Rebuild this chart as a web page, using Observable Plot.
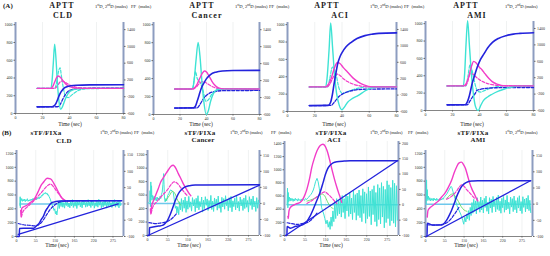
<!DOCTYPE html>
<html><head><meta charset="utf-8">
<script src="https://cdn.jsdelivr.net/npm/d3@7"></script>
<script src="https://cdn.jsdelivr.net/npm/@observablehq/plot@0.6"></script>
<style>
body{margin:0;background:#fff;}
#fig{position:relative;width:550px;height:256px;overflow:hidden;font-family:"Liberation Serif",serif;color:#222;background:#fff;}
.t{position:absolute;white-space:nowrap;line-height:1;}
.ttl{font-weight:bold;font-size:8px;letter-spacing:1px;}
.ttlb{font-weight:bold;font-size:7px;letter-spacing:0.2px;}
.sm{font-size:4.6px;}
.sm sup{font-size:3px;}
.lab{font-weight:bold;font-size:7px;}
.tm{font-size:5.5px;}
</style></head><body><div id="fig"></div><script>
// ---------- Row A: APTT (time 0-80 s) ----------
const aTicksX = [0,20,40,60,80];
const aTicksL = [0,200,400,600,800,1000];
const aTicksR = [-600,-200,200,600,1000,1400];
// CLD
const aCldFF  = [[16,75],[27,76],[28.5,85],[30,115],[31,150],[32,190],[33,225],[34.5,260],[36,285],[38,300],[41,312],[45,318],[55,322],[80,324]];
const aCldFFn = [[16,75],[31,76],[33,100],[35,160],[37,215],[39,250],[42,270],[46,280],[55,284],[80,286]];
const aCld1D  = [[16,0],[26,0],[27.5,40],[29,150],[30.5,260],[31.5,295],[33,270],[35,190],[37,110],[39,55],[42,20],[46,5],[55,0],[80,0]];
const aCld1Dn = [[16,0],[29,0],[31,60],[33,150],[34.5,175],[36.5,150],[39,100],[42,55],[46,20],[52,5],[80,0]];
const aCld2D  = [[16,0],[26,0],[27,150],[28,600],[29,1050],[30,700],[31,150],[32,-250],[33.5,-500],[35,-420],[37,-250],[39,-120],[42,-40],[46,-10],[55,0],[80,0]];
const aCld2Dn = [[16,0],[29,0],[30.5,150],[32,420],[33,490],[34,300],[35.5,0],[37,-180],[39,-220],[42,-150],[46,-60],[52,-10],[80,0]];
// Cancer
const aCanFF  = [[16,72],[30,74],[31.5,90],[33,150],[34.5,220],[36,290],[38,350],[40,400],[43,445],[47,472],[52,485],[60,490],[80,492]];
const aCanFFn = [[16,72],[33,74],[35,110],[37,160],[39,200],[42,235],[46,255],[52,265],[80,268]];
const aCan1D  = [[16,0],[29,0],[31,30],[33,120],[35,260],[37,380],[38.5,425],[40,400],[42,300],[44,190],[46,100],[49,30],[53,5],[80,0]];
const aCan1Dn = [[16,0],[30,0],[32,40],[34,110],[36,165],[37.5,176],[39,160],[42,100],[45,50],[50,10],[80,0]];
const aCan2D  = [[16,0],[29,0],[30.5,150],[32,650],[33.7,1100],[35,800],[36.5,200],[38,-300],[39.8,-600],[41.5,-500],[43,-300],[45,-120],[47,-30],[50,0],[80,0]];
const aCan2Dn = [[16,0],[29.5,0],[30.5,200],[31.7,410],[33,250],[34.5,180],[36,100],[37.5,-50],[39.5,-290],[41.5,-250],[44,-120],[47,-40],[51,0],[80,0]];
// ACI
const aAciFF  = [[16,68],[30,70],[31.5,100],[33,200],[34,300],[35.5,440],[37,560],[38.5,630],[40.5,690],[43,745],[46.8,797],[51,840],[56.8,874],[62,890],[67,900],[80,905]];
const aAciFFn = [[16,68],[32,70],[34,100],[36,140],[38,175],[40.5,203],[44,225],[48,242],[52,253],[60,258],[80,260]];
const aAci1D  = [[16,0],[28,0],[30,60],[32,200],[34,420],[35.5,550],[36.7,593],[38.5,570],[41,470],[44,363],[48,220],[52,118],[56,50],[62,0],[80,0]];
const aAci1Dn = [[16,0],[29,0],[31,60],[33,200],[35,300],[36.5,310],[38.5,280],[41,200],[44,130],[48,70],[53,25],[60,0],[80,0]];
const aAci2D  = [[16,0],[28,0],[29,200],[30.5,900],[31.7,1560],[33,1000],[34.5,300],[36,-150],[38,-450],[40,-558],[42,-480],[44,-380],[46.8,-300],[52,-208],[56.8,-100],[62,-20],[70,0],[80,0]];
const aAci2Dn = [[16,0],[29.5,0],[31,200],[33,485],[34.5,420],[36,250],[37.5,0],[39,-120],[40.5,-166],[43,-130],[47,-80],[52,-30],[58,0],[80,0]];
// AMI
const aAmiFF  = [[16,65],[29.4,66],[31,100],[32.5,170],[34.5,307],[36.5,410],[38.3,498],[40.5,580],[43.3,652],[46,720],[49.6,785],[54,830],[59.6,862],[65,880],[70,888],[80,896]];
const aAmiFFn = [[16,65],[31,66],[33,110],[35,160],[37,200],[38,230],[41,245],[45,255],[52,262],[80,265]];
const aAmi1D  = [[16,0],[28,0],[30,50],[32,220],[34,470],[35.7,598],[37.5,560],[40,450],[41.8,394],[44,300],[47,180],[49.4,105],[53,45],[59,0],[80,0]];
const aAmi1Dn = [[16,0],[29,0],[31,80],[32.5,250],[33.5,310],[35,290],[37,230],[40,150],[44,80],[48,40],[55,10],[80,0]];
const aAmi2D  = [[16,0],[28,0],[29,300],[30,1000],[31.2,1590],[32.5,1000],[34,300],[35.5,-200],[37,-500],[39,-600],[41,-470],[43,-352],[46,-270],[49,-210],[54,-130],[59,-70],[65,-20],[72,0],[80,0]];
const aAmi2Dn = [[16,0],[30,0],[31.5,250],[33,516],[34.5,380],[36,150],[37.5,-50],[39,-140],[41,-150],[44,-110],[48,-60],[53,-20],[60,0],[80,0]];

// ---------- Row B: sTF/FIXa (time 0-305 s) ----------
const bTicksX = [0,55,110,165,220,275];
const bTicksL = [0,200,400,600,800,1000,1200];
const bTicksL3 = [0,200,400,600,800,1000,1200,1400];
const bTicksR = [-100,-50,0,50,100,150];
const bTicksR3 = [-100,-50,0,50,100,150,200];
const noiseStep = 2.5;
// CLD
const bCldFF  = [[2,0],[8,0],[8.5,116],[20,118],[35,118],[49,120],[56,150],[63.6,185],[70,240],[77.9,306],[82,360],[87.4,405],[94,455],[101.7,491],[112,505],[125,512],[160,515],[300,515]];
const bCldLin = [[5,29],[290,470]];
const bCldFFn = [[5,188],[20,170],[40,160],[54,154],[62,165],[68,188],[78,250],[87,323],[96,390],[106,443],[116,480],[125,501],[150,512],[300,518]];
const bCld1D  = [[12,-20],[13,-40],[15,-14],[22,-8],[30,-4],[40,5],[49,12],[56,25],[63.6,42],[70,57],[78,68],[87,79],[97,77],[106,64],[114,48],[121,33],[128,20],[135,12],[145,7]];
const bCld1Dn = [[14,-40],[18,-25],[30,-10],[45,5],[60,22],[75,40],[87,55],[97,61],[106,52],[114,40],[121,30],[130,18],[140,10]];
const bCld2D  = [[10,-5],[10.5,22],[11,-12],[12,18],[13,10],[15,16],[17,8],[19,14],[21,9],[23,15],[25,7],[27,13],[29,10],[31,16],[33,8],[35,12],[37,9],[39,14],[41,10],[43,15],[45,11],[47,17],[49,12],[51,18],[53,14],[55,19],[57,13],[59,17],[61,15],[63,20],[65,16],[67,22],[69,19],[71,26],[73,24],[75,30],[77,28],[79,34],[81,31],[83,35],[85,30],[87,33],[89,27],[91,28],[93,22],[95,18],[97,12],[99,5],[101,-2],[103,-8],[105,-12],[107,-20],[109,-15],[111,-30],[113,-22],[115,-34]];
const bCldNoiseStart = 117;
const bCldNoise = [-18,6,-14,10,-8,12,-10,4,-13,9,-5,11,-9,3,-12,8,-6,13,-11,5,-7,10,-14,7,-4,12,-9,6,-12,9,-3,11,-10,5,-8,13,-6,7,-11,10,-5,12,-13,4,-7,9,-10,14,-4,8,-12,6,-9,11,-5,10,-13,7,-6,12,-8,4,-11,9,-3,13,-10,6,-7,11,-12,8,-5];
const bCldBase = [[10,0],[300,0]];
// Cancer
const bCanFF  = [[1,0],[5,0],[5.5,115],[15,125],[30,140],[40.6,150],[48,180],[54.6,225],[61,300],[68,400],[73,480],[78,550],[84,620],[91.4,675],[100,715],[114.6,740],[130,748],[151.6,750],[305,752]];
const bCanLin = [[1,0],[304,745]];
const bCanFFn = [[4,190],[12,185],[22,175],[35,185],[50,200],[60,225],[68,260],[75,300],[80,330]];
const bCan1D  = [[8,-17],[9,-33],[11,-10],[15,5],[22,25],[29,45],[36,67],[43,80],[50,93],[57,105],[64,116],[70,119],[78,108],[84,93],[91,77],[98,60],[105,46],[114,30],[118,24]];
const bCan1Dn = [[10,-30],[15,-10],[25,5],[40,25],[54,42],[65,60],[72,67],[80,64],[90,50],[100,35],[110,22]];
const bCan2D  = [[1,0],[6,5],[7,40],[8,-10],[9,67],[10,20],[11,55],[12,10],[14,25],[16,12],[18,22],[20,10],[22,18],[24,8],[26,20],[28,12],[30,17],[32,10],[34,22],[36,15],[38,28],[40,35],[42,60],[44,93],[45,60],[46,20],[48,5],[50,15],[52,8],[55,25],[58,30],[61,40],[64,42],[67,38],[70,35],[72,20],[74,0],[76,-15],[78,-8]];
const bCanNoiseStart = 80;
const bCanNoise = [-30,-10,-35,5,-20,15,-25,10,-15,20,-28,8,-18,22,-12,5,-24,18,-8,12,-26,16,-14,24,-20,6,-10,20,-27,10,-16,21,-6,14,-22,9,-12,25,-19,7,-25,17,-9,13,-21,23,-15,4,-28,19,-11,15,-18,24,-7,10,-23,18,-13,22,-26,8,-10,16,-20,26,-14,6,-24,20,-8,12,-22,17,-16,25,-12,9,-27,21,-6,14,-19,23,-11,7,-25,18,-15,10];
const bCanGreen = [[50,10],[60,25],[68,38],[75,30],[82,10],[90,-5]];
const bCanBase = [[5,0],[305,0]];
// ACI
const bAciFF  = [[3,0],[6.5,0],[7,137],[16,112],[30,140],[42.5,152],[52,175],[60,213],[68,290],[78,415],[87,540],[96,668],[103,800],[109,921],[115,1010],[122.5,1072],[130,1105],[140,1123],[160,1133],[176,1138],[303,1138]];
const bAciLin = [[3,0],[302,1138]];
const bAciFFn = [[7,194],[20,180],[34,168],[47,180],[60,194],[70,230],[80,290],[87,340]];
const bAci1D  = [[9,-38],[10,-45],[12,-20],[16,-8],[30,2],[42.5,8],[52,25],[60,51],[67,85],[73,122],[80,152],[87,176],[95,192],[103,197],[109,190],[114,176],[121,145],[127.7,111],[134,82],[140,57],[145,38],[149,24],[153,8]];
const bAci1Dn = [[60,4],[75,15],[87,26],[100,38],[108,42],[116,35],[124,26],[134,12],[140,4]];
const bAci2D  = [[7,0],[8,54],[9,-10],[10,40],[11,10],[13,25],[15,12],[17,22],[19,14],[21,20],[23,11],[25,19],[27,13],[29,21],[31,15],[33,18],[35,12],[37,20],[39,14],[41,17],[43,13],[45,19],[47,15],[50,18],[53,14],[56,20],[59,17],[62,22],[65,25],[68,30],[71,34],[74,40],[77,48],[80,60],[83,75],[87,86],[90,75],[93,54],[96,30],[99,-8],[102,-20],[105,-30],[108,-45],[111,-62],[114,-50],[117,-73],[120,-55]];
const bAciNoiseStart = 122;
const bAciNoise = [-80,-40,-70,-20,-55,10,-45,20,-35,15,-30,25,-40,30,-25,20,-45,35,-20,28,-38,40,-30,22,-48,45,-25,33,-50,38,-35,48,-42,30,-55,52,-28,42,-60,36,-45,58,-38,45,-65,50,-32,62,-55,40,-70,66,-48,55,-62,72,-40,60,-75,50,-58,78,-45,65,-68,56,-52,80,-60,70,-72,62,-50];
const bAciGreen = [[60,12],[75,18],[90,28],[100,35],[108,28],[115,10],[122,-5],[130,-12]];
const bAciBase = [[7,0],[303,0]];
// AMI
const bAmiFF  = [[2,0],[4.5,0],[5,192],[18.7,168],[30,165],[46.7,168],[55,200],[60.7,240],[68,310],[74.7,384],[82,480],[88.7,576],[96,660],[102.7,720],[110,760],[121,792],[135,802],[149,806],[300,806]];
const bAmiLin = [[2,0],[299,806]];
const bAmiFFn = [[5,170],[20,165],[40,170],[55,185],[65,215],[75,270],[85,340],[95,420]];
const bAmi1D  = [[5,-40],[7,-20],[12,-12],[20,-5],[30,4],[37,10],[46,22],[56,35],[65,52],[74.7,75],[82,98],[88.7,115],[95,127],[102.7,130],[108,123],[114,110],[120,88],[126,65],[133,45],[140,30],[145,18],[149,10]];
const bAmi1Dn = [[60,15],[75,25],[88,40],[96,52],[102.7,60],[110,55],[118,44],[126,35],[134,25],[142,15]];
const bAmi2D  = [[2,0],[3,75],[4,10],[5,45],[6,15],[8,25],[10,12],[12,20],[14,10],[16,18],[18,12],[20,17],[22,10],[24,19],[26,13],[28,16],[30,11],[32,18],[34,12],[36,15],[38,10],[40,17],[42,12],[44,16],[46,13],[48,18],[50,15],[52,20],[55,24],[58,28],[61,32],[64,38],[67,44],[70,50],[73,55],[75,52],[78,40],[82,25],[86,10],[90,-5],[94,-15],[98,-25],[102,-35],[106,-50],[109,-62],[112,-40],[115,-55],[118,-30]];
const bAmiNoiseStart = 120;
const bAmiNoise = [-45,-20,-50,-10,-35,5,-28,15,-22,10,-30,20,-15,8,-25,22,-18,12,-27,18,-10,25,-22,6,-30,20,-12,15,-26,24,-8,10,-24,21,-16,28,-20,9,-28,18,-11,24,-25,13,-18,27,-14,6,-30,22,-9,17,-23,25,-17,11,-27,20,-12,26,-21,8,-29,23,-10,16,-24,19,-15,27,-20,12,-26];
const bAmiGreen = [[60,18],[70,28],[78,32],[86,22],[94,8],[102,-8],[110,-18],[118,-22]];
const bAmiBase = [[2,0],[300,0]];

// ---------- drawing ----------
const C = {blue:"#2323dc", mag:"#f23cc8", cyan:"#3ee3d4", base:"#6ec8ec", green:"#62dd62"};
const fig = document.getElementById("fig");

function seq(start, vals, end){ // regular instrument sampling of typed values
  const out=[]; vals.forEach((v,i)=>{const t=start+i*noiseStep; if(t<=end) out.push([t,v]);}); return out;
}
function txt(html, x, y, cls, center){
  const d=document.createElement("div"); d.className="t "+cls; d.innerHTML=html;
  d.style.left=x+"px"; d.style.top=y+"px";
  d.style.transform = center ? "translate(-50%,-50%)" : "translateY(-50%)";
  fig.appendChild(d);
}
function panel(p){
  const mL=16,mR=16,mT=6,mB=10;
  const width=(p.R-p.L)+mL+mR, height=(p.B-p.T)+mT+mB;
  const [l0,l1]=p.lDom, [r0,r1]=p.rDom;
  const toL = r => (r-r0)/(r1-r0)*(l1-l0)+l0;
  const toR = l => (l-l0)/(l1-l0)*(r1-r0)+r0;
  const marks=[
    Plot.gridX(p.xTicks,{stroke:"#9aa",strokeOpacity:0.25,strokeWidth:0.6}),
    Plot.ruleY([l0],{stroke:"#666",strokeWidth:0.8}),
    Plot.ruleX([p.xDom[0]],{stroke:"#8d9dc0",strokeWidth:2}),
    Plot.ruleX([p.xDom[1]],{stroke:"#8d9dc0",strokeWidth:2}),
    Plot.axisX(p.xTicks,{label:null,tickSize:1.5,tickPadding:1,fontSize:4,tickFormat:d=>String(d),stroke:"#666"}),
    Plot.axisY(p.lTicks,{label:null,anchor:"left",tickSize:1.5,tickPadding:1.5,fontSize:4,tickFormat:d=>String(d),stroke:"#666"}),
    Plot.axisY(p.rTicks.map(toL),{label:null,anchor:"right",tickSize:1.5,tickPadding:2,fontSize:4,tickFormat:d=>String(Math.round(toR(d))),stroke:"#666"})
  ];
  for(const c of p.curves){
    const data=c.d.map(([t,v])=>({t, v: c.r ? toL(v) : v}));
    marks.push(Plot.line(data,{x:"t",y:"v",stroke:c.s,strokeWidth:c.w||1.4,strokeDasharray:c.dash?"3,1.6":null,curve:c.lin?"linear":"monotone-x"}));
  }
  const svg=Plot.plot({width,height,marginLeft:mL,marginRight:mR,marginTop:mT,marginBottom:mB,
    x:{domain:p.xDom,label:null},y:{domain:p.lDom,label:null},
    style:{background:"transparent",overflow:"visible",fontSize:"4px",fontFamily:"Liberation Serif, serif",color:"#333"},
    marks});
  svg.style.position="absolute"; svg.style.left=(p.L-mL)+"px"; svg.style.top=(p.T-mT)+"px";
  svg.style.width=width+"px"; svg.style.height=height+"px"; svg.style.maxWidth="none";
  fig.appendChild(svg);
}
function aCurves(ff,ffn,d1,d1n,d2,d2n){
  return [
    {d:d2n,r:1,s:C.cyan,dash:1,w:1.2},{d:d1n,r:1,s:C.mag,dash:1,w:1.2},{d:ffn,s:C.blue,dash:1,w:1.3},
    {d:d2,r:1,s:C.cyan,w:1.4},{d:d1,r:1,s:C.mag,w:1.4},{d:ff,s:C.blue,w:1.6}
  ];
}
function bCurves(base,d2,noiseStart,noise,green,ff,lin,ffn,d1,d1n,end){
  const cy=d2.concat(seq(noiseStart,noise,end));
  const arr=[{d:base,r:1,s:C.base,w:1.5,lin:1},{d:cy,r:1,s:C.cyan,w:1,lin:1}];
  if(green) arr.push({d:green,r:1,s:C.green,w:0.9});
  arr.push({d:d1n,r:1,s:C.mag,dash:1,w:1.2},{d:d1,r:1,s:C.mag,w:1.4},
    {d:ffn,s:C.blue,dash:1,w:1.2},{d:lin,s:C.blue,w:1.3,lin:1},{d:ff,s:C.blue,w:1.5});
  return arr;
}
const aR=[-600,1570], aL=[0,1025];
const panels=[
  {L:15,R:123,T:22,B:113,xDom:[0,80],xTicks:aTicksX,lDom:aL,rDom:aR,lTicks:aTicksL,rTicks:aTicksR,curves:aCurves(aCldFF,aCldFFn,aCld1D,aCld1Dn,aCld2D,aCld2Dn)},
  {L:153,R:259,T:22,B:114,xDom:[0,80],xTicks:aTicksX,lDom:aL,rDom:aR,lTicks:aTicksL,rTicks:aTicksR,curves:aCurves(aCanFF,aCanFFn,aCan1D,aCan1Dn,aCan2D,aCan2Dn)},
  {L:287,R:396,T:22,B:111,xDom:[0,80],xTicks:aTicksX,lDom:aL,rDom:aR,lTicks:aTicksL,rTicks:aTicksR,curves:aCurves(aAciFF,aAciFFn,aAci1D,aAci1Dn,aAci2D,aAci2Dn)},
  {L:425,R:533,T:21,B:110,xDom:[0,80],xTicks:aTicksX,lDom:aL,rDom:aR,lTicks:aTicksL,rTicks:aTicksR,curves:aCurves(aAmiFF,aAmiFFn,aAmi1D,aAmi1Dn,aAmi2D,aAmi2Dn)},
  {L:16,R:123,T:150,B:236,xDom:[0,305],xTicks:bTicksX,lDom:[0,1243],rDom:[-100,164],lTicks:bTicksL,rTicks:bTicksR,curves:bCurves(bCldBase,bCld2D,bCldNoiseStart,bCldNoise,null,bCldFF,bCldLin,bCldFFn,bCld1D,bCld1Dn,300)},
  {L:147,R:259,T:150,B:235,xDom:[0,305],xTicks:bTicksX,lDom:[0,1262],rDom:[-100,165],lTicks:bTicksL,rTicks:bTicksR,curves:bCurves(bCanBase,bCan2D,bCanNoiseStart,bCanNoise,bCanGreen,bCanFF,bCanLin,bCanFFn,bCan1D,bCan1Dn,305)},
  {L:284,R:398,T:141,B:235,xDom:[0,305],xTicks:bTicksX,lDom:[0,1430],rDom:[-100,206],lTicks:bTicksL3,rTicks:bTicksR3,curves:bCurves(bAciBase,bAci2D,bAciNoiseStart,bAciNoise,bAciGreen,bAciFF,bAciLin,bAciFFn,bAci1D,bAci1Dn,303)},
  {L:425,R:532,T:150,B:236,xDom:[0,305],xTicks:bTicksX,lDom:[0,1243],rDom:[-100,166],lTicks:bTicksL,rTicks:bTicksR,curves:bCurves(bAmiBase,bAmi2D,bAmiNoiseStart,bAmiNoise,bAmiGreen,bAmiFF,bAmiLin,bAmiFFn,bAmi1D,bAmi1Dn,300)}
];
panels.forEach(panel);

// ---------- texts ----------
const deriv="1<sup>st</sup>D, 2<sup>nd</sup>D (mabs)";
txt("(A)",3,6,"lab"); txt("(B)",2,133,"lab");
const titlesA=[["APTT",62,"CLD",63],["APTT",202,"Cancer",207],["APTT",327,"ACI",340],["APTT",466,"AMI",477]];
titlesA.forEach(([a,x1,b,x2])=>{txt(a,x1,6,"ttl",1);txt(b,x2,15.5,"ttl",1);});
const titlesB=[["sTF/FIXa",46,"CLD",64,140.8],["sTF/FIXa",200,"Cancer",203,140.3],["sTF/FIXa",331,"ACI",334,139.8],["sTF/FIXa",473,"AMI",478,140.3]];
titlesB.forEach(([a,x1,b,x2,y2])=>{txt(a,x1,132.8,"ttlb",1);txt(b,x2,y2,"ttlb",1);});
[95,235,370,505].forEach(x=>txt(deriv,x,6.5,"sm"));
[100,230,370,505].forEach(x=>txt(deriv,x,132.5,"sm"));
[131,269,404].forEach(x=>txt("FF&nbsp;&nbsp;(mabs)",x,6.5,"sm"));
[134,271,408].forEach(x=>txt("FF&nbsp;&nbsp;(mabs)",x,132.5,"sm"));
[70,201,334,472].forEach(x=>txt("Time (sec)",x,125,"tm",1));
[57,189,331,466].forEach(x=>txt("Time (sec)",x,246,"tm",1));
</script></body></html>
